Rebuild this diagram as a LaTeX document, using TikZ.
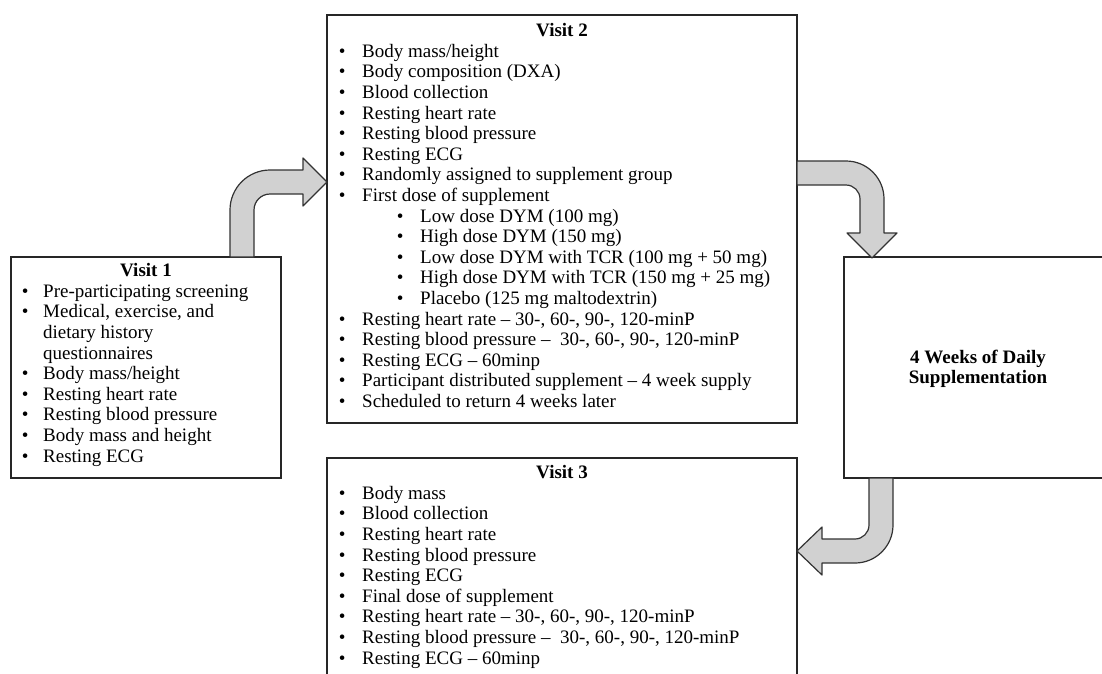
\documentclass[tikz,border=0pt]{standalone}
\usepackage{fontspec}
\setmainfont{Liberation Serif}
\newcommand\bi[2][12pt]{\makebox[16pt][c]{\textbullet}\hspace*{#1}#2}
\newcommand\sbi[1]{\hspace*{58pt}\bi{#1}}
\begin{document}
\begin{tikzpicture}[x=1pt,y=-1pt,
  box/.style={draw=black!85, line width=1.3pt, inner sep=0},
  body/.style={anchor=north west, align=left, inner sep=0, font=\fontsize{19}{20.6}\selectfont},
  ttl/.style={anchor=base, inner sep=0, font=\fontsize{19}{20.6}\selectfont\bfseries},
  blockarrow/.style={draw=black!80, line width=1.2pt, fill=black!18, line join=round}]
\clip (0,0) rectangle (1102,673);
% boxes
\node[box, minimum width=270pt, minimum height=221pt] (v1) at (146,367.5) {};
\node[box, minimum width=470pt, minimum height=408pt] (v2) at (562,219) {};
\node[box, minimum width=470pt, minimum height=242pt] (v3) at (562,579) {};
\node[box, minimum width=286pt, minimum height=221pt] (wk) at (987,367.5) {};
% block arrows
\draw[blockarrow] (230,257) -- (230,210) .. controls (230,187.9) and (247.9,170) .. (270,170) -- (303,170) -- (303,158) -- (327,182) -- (303,206) -- (303,194) -- (270,194) .. controls (261.2,194) and (254,201.2) .. (254,210) -- (254,257) -- cycle;
\draw[blockarrow] (797,161) -- (846,161) .. controls (867,161) and (884,178) .. (884,199) -- (884,233) -- (897,233) -- (872,258) -- (847,233) -- (860,233) -- (860,199) .. controls (860,191.3) and (853.7,185) .. (846,185) -- (797,185) -- cycle;
\draw[blockarrow] (869,478) -- (869,525) .. controls (869,532.7) and (862.7,539) .. (855,539) -- (822,539) -- (822,527) -- (797,551) -- (822,575) -- (822,563) -- (855,563) .. controls (876,563) and (893,546) .. (893,525) -- (893,478) -- cycle;
% Visit 1
\node[ttl] (v1h) at (146,276) {Visit 1};
\node[body] (v1t) at (17,282.6) {\strut\bi[10pt]{Pre-participating screening}\\
\bi[10pt]{Medical, exercise, and}\\
\hspace*{26pt}dietary history\\
\hspace*{26pt}questionnaires\\
\bi[10pt]{Body mass/height}\\
\bi[10pt]{Resting heart rate}\\
\bi[10pt]{Resting blood pressure}\\
\bi[10pt]{Body mass and height}\\
\bi[10pt]{Resting ECG}};
% Visit 2
\node[ttl] (v2h) at (562,36.5) {Visit 2};
\node[body] (v2t) at (334,42.6) {\strut\bi{Body mass/height}\\
\bi{Body composition (DXA)}\\
\bi{Blood collection}\\
\bi{Resting heart rate}\\
\bi{Resting blood pressure}\\
\bi{Resting ECG}\\
\bi{Randomly assigned to supplement group}\\
\bi{First dose of supplement}\\
\sbi{Low dose DYM (100 mg)}\\
\sbi{High dose DYM (150 mg)}\\
\sbi{Low dose DYM with TCR (100 mg + 50 mg)}\\
\sbi{High dose DYM with TCR (150 mg + 25 mg)}\\
\sbi{Placebo (125 mg maltodextrin)}\\
\bi{Resting heart rate – 30-, 60-, 90-, 120-minP}\\
\bi{Resting blood pressure –\ \ 30-, 60-, 90-, 120-minP}\\
\bi{Resting ECG – 60minp}\\
\bi{Participant distributed supplement – 4 week supply}\\
\bi{Scheduled to return 4 weeks later}};
% Visit 3
\node[ttl] (v3h) at (562,478.5) {Visit 3};
\node[body] (v3t) at (334,484.6) {\strut\bi{Body mass}\\
\bi{Blood collection}\\
\bi{Resting heart rate}\\
\bi{Resting blood pressure}\\
\bi{Resting ECG}\\
\bi{Final dose of supplement}\\
\bi{Resting heart rate – 30-, 60-, 90-, 120-minP}\\
\bi{Resting blood pressure –\ \ 30-, 60-, 90-, 120-minP}\\
\bi{Resting ECG – 60minp}};
% 4 weeks
\node[body, anchor=north, align=center, font=\fontsize{19}{20.6}\selectfont\bfseries] (wkt) at (978,348.6) {\strut 4 Weeks of Daily\\ Supplementation};
\end{tikzpicture}
\end{document}
